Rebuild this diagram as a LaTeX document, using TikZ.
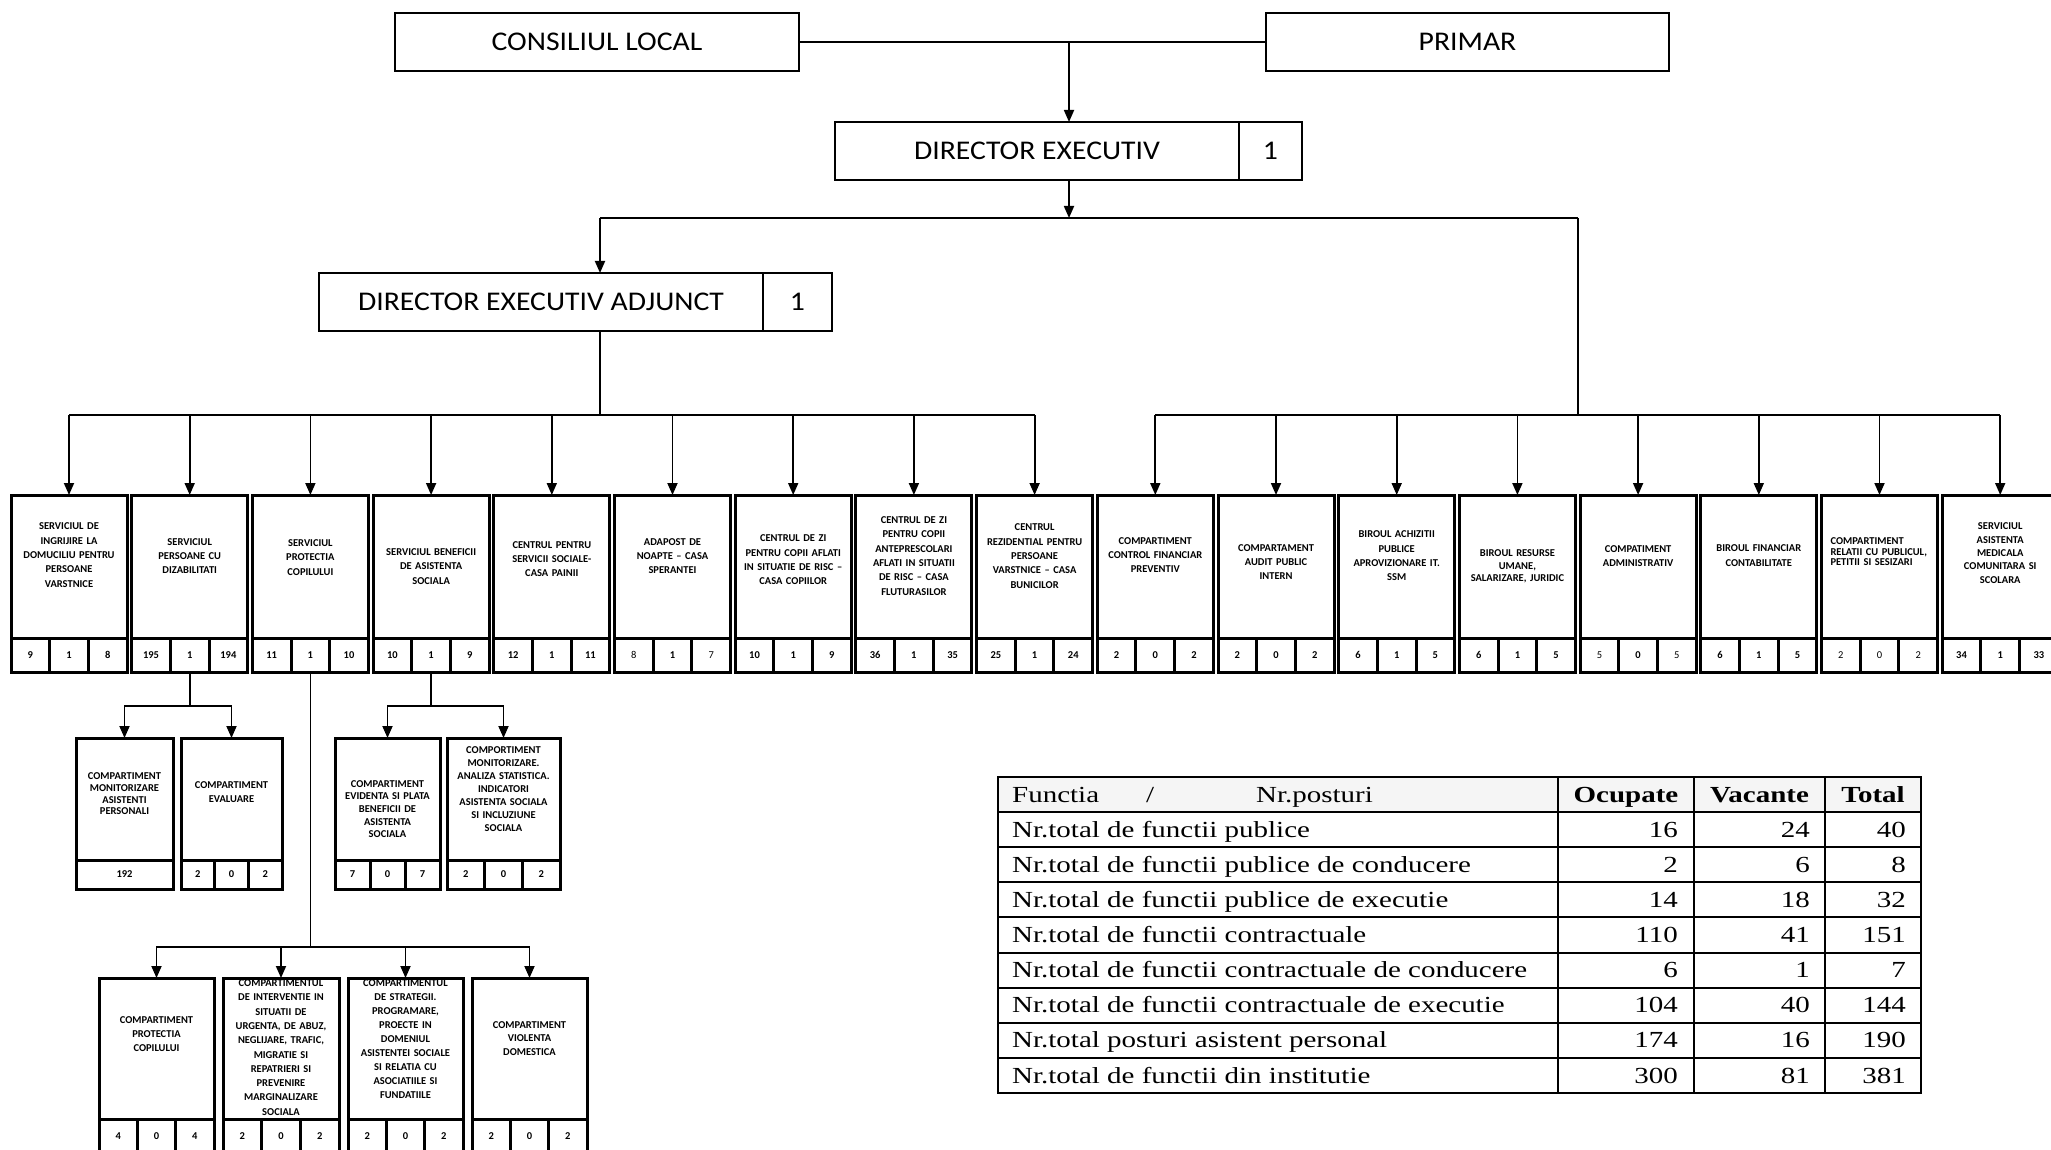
\documentclass[tikz,border=0pt]{standalone}
\usepackage{fontspec}
\setmainfont{Carlito}
\newfontfamily\tnr[FakeStretch=1.26]{Liberation Serif}
\newfontfamily\lat[FakeStretch=1.1]{Carlito}
\usetikzlibrary{arrows.meta}

% 方框 + 三个数字格
\newcommand{\caseta}[9]{%
  \node[corp, minimum width=#4pt, anchor=north west] (#1) at (#2,#3) {};
  \node[eticheta, text width=#4pt, #9] at (#1.center) {#5};
  \node[celula, minimum width=#4pt/3, anchor=north west] (#1a) at (#1.south west) {#6};
  \node[celula, minimum width=#4pt/3, anchor=north] (#1b) at (#1.south) {#7};
  \node[celula, minimum width=#4pt/3, anchor=north east] (#1c) at (#1.south east) {#8};
}

\begin{document}
\begin{tikzpicture}[x=1pt, y=-1pt,
  sus/.style={draw, line width=2.5pt, inner sep=0pt, outer sep=0pt, minimum height=58pt, font=\lat\fontsize{27}{30}\selectfont},
  corp/.style={draw, line width=3pt, inner sep=0pt, outer sep=0pt, minimum height=143pt},
  celula/.style={draw, line width=3pt, inner sep=0pt, outer sep=0pt, minimum height=34pt, font=\bfseries\fontsize{10.5}{12}\selectfont},
  eticheta/.style={inner sep=0pt, align=center, font=\bfseries\fontsize{10.5}{14.3}\selectfont},
  interlinie/.style={font=\bfseries\fontsize{10.5}{#1}\selectfont},
  conector/.style={line width=1.8pt},
  sageata/.style={conector, -{Triangle[length=12pt,width=10pt]}},
  grila/.style={line width=2pt},
  tabel/.style={inner sep=0pt, font=\tnr\fontsize{23}{26}\selectfont}]

\fill[white] (0,0) rectangle (2051,1150);
\useasboundingbox (0,0) rectangle (2051,1150);

% 顶部方框
\node[sus, minimum width=404pt, anchor=north west] (cl) at (395,13) {CONSILIUL LOCAL};
\node[sus, minimum width=403pt, anchor=north west] (pr) at (1266,13) {PRIMAR};
\node[sus, minimum width=404pt, anchor=north west] (de) at (835,122) {DIRECTOR EXECUTIV};
\node[sus, minimum width=63pt, anchor=north west] (de1) at (de.north east) {1};
\node[sus, minimum width=444pt, anchor=north west] (dea) at (319,273) {DIRECTOR EXECUTIV ADJUNCT};
\node[sus, minimum width=69pt, anchor=north west] (dea1) at (dea.north east) {1};

% 第一排
\caseta{s1}{11}{495}{116}{SERVICIUL DE\\INGRIJIRE LA\\DOMUCILIU PENTRU\\PERSOANE\\VARSTNICE}{9}{1}{8}{yshift=11.5pt}
\caseta{s2}{131.7}{495}{116}{SERVICIUL\\PERSOANE CU\\DIZABILITATI}{195}{1}{194}{yshift=10.5pt}
\caseta{s3}{252.4}{495}{116}{SERVICIUL\\PROTECTIA\\COPILULUI}{11}{1}{10}{yshift=9pt}
\caseta{s4}{373.1}{495}{116}{SERVICIUL BENEFICII\\DE ASISTENTA\\SOCIALA}{10}{1}{9}{yshift=0pt}
\caseta{s5}{493.8}{495}{116}{CENTRUL PENTRU\\SERVICII SOCIALE-\\CASA PAINII}{12}{1}{11}{yshift=7.5pt}
\caseta{s6}{614.5}{495}{116}{ADAPOST DE\\NOAPTE -- CASA\\SPERANTEI}{\mdseries 8}{1}{\mdseries 7}{yshift=10.5pt}
\caseta{s7}{735.2}{495}{116}{CENTRUL DE ZI\\PENTRU COPII AFLATI\\IN SITUATIE DE RISC --\\CASA COPIILOR}{10}{1}{9}{yshift=6.5pt}
\caseta{s8}{855.9}{495}{116}{CENTRUL DE ZI\\PENTRU COPII\\ANTEPRESCOLARI\\AFLATI IN SITUATII\\DE RISC -- CASA\\FLUTURASILOR}{36}{1}{35}{yshift=10.5pt}
\caseta{s9}{976.6}{495}{116}{CENTRUL\\REZIDENTIAL PENTRU\\PERSOANE\\VARSTNICE -- CASA\\BUNICILOR}{25}{1}{24}{yshift=10.5pt}
\caseta{s10}{1097.3}{495}{116}{COMPARTIMENT\\CONTROL FINANCIAR\\PREVENTIV}{2}{0}{2}{yshift=11.5pt}
\caseta{s11}{1218}{495}{116}{COMPARTAMENT\\AUDIT PUBLIC\\INTERN}{2}{0}{2}{yshift=4.5pt}
\caseta{s12}{1338.7}{495}{116}{BIROUL ACHIZITII\\PUBLICE\\APROVIZIONARE IT.\\SSM}{6}{1}{5}{yshift=10.5pt}
\caseta{s13}{1459.4}{495}{116}{BIROUL RESURSE\\UMANE,\\SALARIZARE, JURIDIC}{6}{1}{5}{yshift=0pt, interlinie=12.5}
\caseta{s14}{1580.1}{495}{116}{COMPATIMENT\\ADMINISTRATIV}{\mdseries 5}{0}{\mdseries 5}{yshift=10.5pt}
\caseta{s15}{1700.8}{495}{116}{BIROUL FINANCIAR\\CONTABILITATE}{6}{1}{5}{yshift=11pt}
\caseta{s16}{1821.5}{495}{116}{COMPARTIMENT\\RELATII CU PUBLICUL,\\PETITII SI SESIZARI}{\mdseries 2}{\mdseries 0}{\mdseries 2}{yshift=14.5pt, align=left, text width=98pt, interlinie=10.5}
\caseta{s17}{1942.2}{495}{116}{SERVICIUL\\ASISTENTA\\MEDICALA\\COMUNITARA SI\\SCOLARA}{34}{1}{33}{yshift=13.5pt, interlinie=13.3}

% 第二排
\begin{scope}[corp/.append style={minimum height=122pt}, celula/.append style={minimum height=29pt}]
\node[corp, minimum width=97pt, anchor=north west] (monit) at (76,738) {};
\node[eticheta, text width=97pt, interlinie=11.7, yshift=5pt] at (monit.center) {COMPARTIMENT\\MONITORIZARE\\ASISTENTI\\PERSONALI};
\node[celula, minimum width=97pt, anchor=north] (monita) at (monit.south) {192};
\caseta{eval}{181}{738}{101}{COMPARTIMENT\\EVALUARE}{2}{0}{2}{yshift=7pt}
\caseta{evid}{335}{738}{105}{COMPARTIMENT\\EVIDENTA SI PLATA\\BENEFICII DE\\ASISTENTA\\SOCIALA}{7}{0}{7}{yshift=-10pt, interlinie=12.7}
\caseta{stat}{447}{738}{113}{COMPORTIMENT\\MONITORIZARE.\\ANALIZA STATISTICA.\\INDICATORI\\ASISTENTA SOCIALA\\SI INCLUZIUNE\\SOCIALA}{2}{0}{2}{yshift=10pt, interlinie=13}
\end{scope}

% 第三排
\begin{scope}[corp/.append style={minimum height=141pt}]
\caseta{prot}{99}{978}{115}{COMPARTIMENT\\PROTECTIA\\COPILULUI}{4}{0}{4}{yshift=14.5pt, interlinie=14}
\caseta{urg}{223}{978}{116}{COMPARTIMENTUL\\DE INTERVENTIE IN\\SITUATII DE\\URGENTA, DE ABUZ,\\NEGLIJARE, TRAFIC,\\MIGRATIE SI\\REPATRIERI SI\\PREVENIRE\\MARGINALIZARE\\SOCIALA}{2}{0}{2}{yshift=1pt, interlinie=14.3}
\caseta{strat}{348}{978}{115}{COMPARTIMENTUL\\DE STRATEGII.\\PROGRAMARE,\\PROECTE IN\\DOMENIUL\\ASISTENTEI SOCIALE\\SI RELATIA CU\\ASOCIATIILE SI\\FUNDATIILE}{2}{0}{2}{yshift=9.5pt, interlinie=14}
\caseta{viol}{472}{978}{115}{COMPARTIMENT\\VIOLENTA\\DOMESTICA}{2}{0}{2}{yshift=10pt, interlinie=13.5}
\end{scope}

% 连线
\coordinate (j1) at (1069,42);
\coordinate (j2) at (1069,218);
\coordinate (j2l) at (600,218);
\coordinate (j2r) at (1578,218);
\coordinate (bus) at (0,415);
\coordinate (nivel1) at (0,706);
\coordinate (nivel2) at (0,947);

\draw[conector] (cl) -- (pr);
\draw[sageata] (j1) -- (j1 |- de.north);
\draw[sageata] (j1 |- de.south) -- (j2);
\draw[conector] (j2l) -- (j2r);
\draw[sageata] (j2l) -- (j2l |- dea.north);
\draw[conector] (j2l |- dea.south) -- (j2l |- bus);
\draw[conector] (j2r) -- (j2r |- bus);
\draw[conector] (s1.north |- bus) -- (s9.north |- bus);
\draw[conector] (s10.north |- bus) -- (s17.north |- bus);
\foreach \i in {1,...,17}
  \draw[sageata] (s\i.north |- bus) -- (s\i.north);

\draw[conector] (s2b.south) -- (s2b.south |- nivel1);
\draw[sageata] (s2b.south |- nivel1) -| (monit.north);
\draw[sageata] (s2b.south |- nivel1) -| (eval.north);
\draw[conector] (s4b.south) -- (s4b.south |- nivel1);
\draw[sageata] (s4b.south |- nivel1) -| (evid.north);
\draw[sageata] (s4b.south |- nivel1) -| (stat.north);
\draw[conector] (s3b.south) -- (s3b.south |- nivel2);
\draw[sageata] (s3b.south |- nivel2) -| (prot.north);
\draw[sageata] (s3b.south |- nivel2) -| (urg.north);
\draw[sageata] (s3b.south |- nivel2) -| (strat.north);
\draw[sageata] (s3b.south |- nivel2) -| (viol.north);

% 表格
\fill[gray!8] (998,777) rectangle (1921,812);
\draw[grila] (998,777) rectangle (1921,1093);
\foreach \k in {1,...,8}
  \draw[grila] (998,{777+35.11*\k}) -- (1921,{777+35.11*\k});
\foreach \x in {1558,1694,1825}
  \draw[grila] (\x,777) -- (\x,1093);

\node[tabel, anchor=base west] (h1) at (1012,802) {Functia};
\node[tabel, anchor=base west] (h2) at (1146,802) {/};
\node[tabel, anchor=base west] (h3) at (1256,802) {Nr.posturi};
\node[tabel, anchor=base, font=\tnr\bfseries\fontsize{23}{26}\selectfont] (h4) at (1626,802) {Ocupate};
\node[tabel, anchor=base, font=\tnr\bfseries\fontsize{23}{26}\selectfont] (h5) at (1759.5,802) {Vacante};
\node[tabel, anchor=base, font=\tnr\bfseries\fontsize{23}{26}\selectfont] (h6) at (1873,802) {Total};

\foreach \txt/\o/\v/\t [count=\i] in {
  Nr.total de functii publice/16/24/40,
  Nr.total de functii publice de conducere/2/6/8,
  Nr.total de functii publice de executie/14/18/32,
  Nr.total de functii contractuale/110/41/151,
  Nr.total de functii contractuale de conducere/6/1/7,
  Nr.total de functii contractuale de executie/104/40/144,
  Nr.total posturi asistent personal/174/16/190,
  Nr.total de functii din institutie/300/81/381}{
  \node[tabel, anchor=base west] (r\i) at (1012,{777+35.11*\i+25.2}) {\txt};
  \node[tabel, anchor=base east] (o\i) at (1678,{777+35.11*\i+25.2}) {\o};
  \node[tabel, anchor=base east] (v\i) at (1810,{777+35.11*\i+25.2}) {\v};
  \node[tabel, anchor=base east] (t\i) at (1906,{777+35.11*\i+25.2}) {\t};
}
\end{tikzpicture}
\end{document}
